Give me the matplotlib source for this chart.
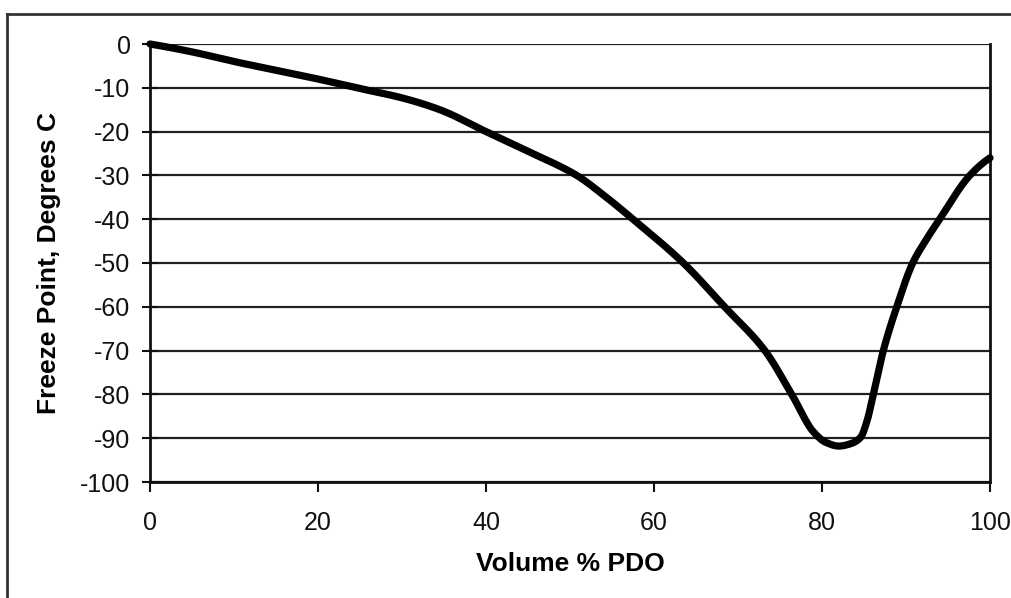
import matplotlib
matplotlib.use("Agg")
import numpy as np
import matplotlib.pyplot as plt
from matplotlib.lines import Line2D

# Data
volume_pct_pdo = [0, 5, 10, 15, 20, 24.6, 30, 34.5, 40, 45, 50.8, 54, 57.5,
                  63.5, 68.4, 73.2, 76.4, 79, 80.5, 82, 83.5, 84.6, 85.4, 86.1, 87.3,
                  88.9, 90.8, 92.3, 94, 97.6, 100]
freeze_point_c = [0, -1.8, -4.0, -6.0, -8.0, -10, -12.3, -15, -20, -24.5, -30, -34.5,
                  -40, -50, -60, -70, -80, -88.6, -91, -91.8, -91.2, -89.8, -85.8, -80, -70,
                  -60, -50, -45, -40, -30, -26]

x_ticks = [0, 20, 40, 60, 80, 100]
y_ticks = [0, -10, -20, -30, -40, -50, -60, -70, -80, -90, -100]


def pchip_render(xs, ys, n=20):
    """Shape-preserving (Fritsch-Carlson) smooth rendering through the read points."""
    x = np.asarray(xs, float)
    y = np.asarray(ys, float)
    h = np.diff(x)
    d = np.diff(y) / h
    m = np.zeros_like(x)
    for k in range(1, len(x) - 1):
        if d[k - 1] * d[k] > 0:
            w1 = 2 * h[k] + h[k - 1]
            w2 = h[k] + 2 * h[k - 1]
            m[k] = (w1 + w2) / (w1 / d[k - 1] + w2 / d[k])

    def end_slope(h0, h1, d0, d1):
        s = ((2 * h0 + h1) * d0 - h0 * d1) / (h0 + h1)
        if np.sign(s) != np.sign(d0):
            s = 0.0
        elif np.sign(d0) != np.sign(d1) and abs(s) > abs(3 * d0):
            s = 3 * d0
        return s

    m[0] = end_slope(h[0], h[1], d[0], d[1])
    m[-1] = end_slope(h[-1], h[-2], d[-1], d[-2])
    px, py = [], []
    for k in range(len(x) - 1):
        t = np.linspace(0, 1, n, endpoint=False)
        h00 = 2 * t ** 3 - 3 * t ** 2 + 1
        h10 = t ** 3 - 2 * t ** 2 + t
        h01 = -2 * t ** 3 + 3 * t ** 2
        h11 = t ** 3 - t ** 2
        px.append(x[k] + t * h[k])
        py.append(h00 * y[k] + h10 * h[k] * m[k] + h01 * y[k + 1] + h11 * h[k] * m[k + 1])
    px.append([x[-1]])
    py.append([y[-1]])
    return np.concatenate(px), np.concatenate(py)


plt.rcParams['font.family'] = ['Liberation Sans', 'DejaVu Sans']

W, H = 1011, 598
fig = plt.figure(figsize=(W / 100, H / 100), dpi=100)
fig.patch.set_facecolor('white')

ax = fig.add_axes([150 / W, 1 - 482 / H, 840 / W, 438 / H])
ax.set_xlim(0, 100)
ax.set_ylim(-100, 0)

for yv in y_ticks:
    ax.axhline(yv, color='#222222', lw=1.6, zorder=1)

sx, sy = pchip_render(volume_pct_pdo, freeze_point_c)
ax.plot(sx, sy, color='black', lw=5.2,
        solid_capstyle='round', solid_joinstyle='round', zorder=3, clip_on=False)

for side in ['left', 'right', 'bottom']:
    ax.spines[side].set_color('#111111')
    ax.spines[side].set_linewidth(2.0)
ax.spines['top'].set_visible(False)

ax.set_xticks(x_ticks)
ax.set_yticks(y_ticks)
ax.set_xticklabels([str(v) for v in x_ticks])
ax.set_yticklabels([str(v) for v in y_ticks])
ax.tick_params(axis='x', direction='out', length=7, width=1.5, pad=14,
               labelsize=18, colors='#111111')
ax.tick_params(axis='y', direction='inout', length=12, width=1.5, pad=8,
               labelsize=18, colors='#111111')

ax.set_xlabel('Volume % PDO', fontsize=19, fontweight='bold', labelpad=12)
ax.set_ylabel('Freeze Point, Degrees C', fontsize=19, fontweight='bold', labelpad=14)

# Outer frame (clipped by the image at right and bottom)
fig.add_artist(Line2D([7 / W, 7 / W], [0, 1 - 14 / H], transform=fig.transFigure,
                      color='#333333', lw=2.0))
fig.add_artist(Line2D([7 / W, 1], [1 - 14 / H, 1 - 14 / H], transform=fig.transFigure,
                      color='#333333', lw=2.0))

fig.savefig('out.png', dpi=100, facecolor='white')
